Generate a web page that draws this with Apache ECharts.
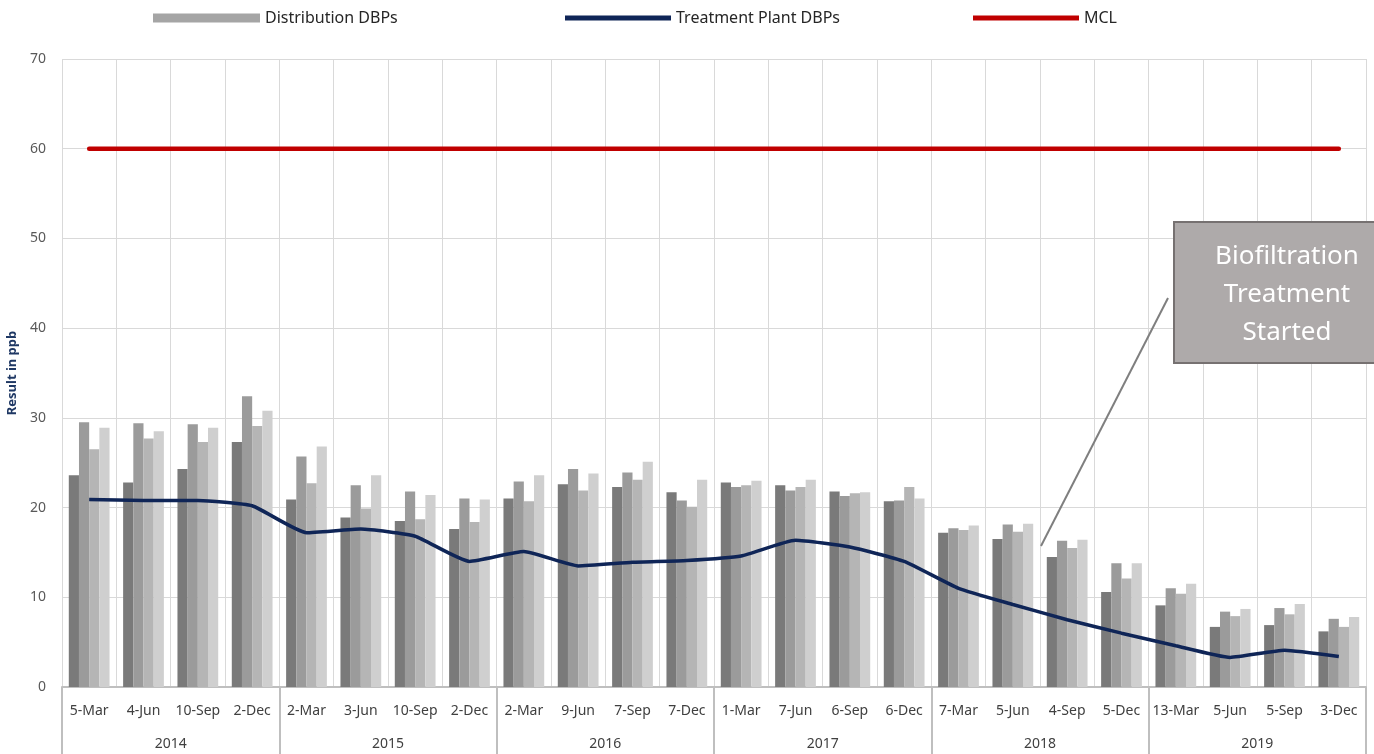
<!DOCTYPE html>
<html>
<head>
<meta charset="utf-8">
<script src="https://cdn.jsdelivr.net/npm/echarts@6/dist/echarts.min.js"></script>
<style>
html,body{margin:0;padding:0;background:#fff;}
#chart{width:1374px;height:754px;}
</style>
</head>
<body>
<div id="chart"></div>
<script>
var months = ['5-Mar','4-Jun','10-Sep','2-Dec','2-Mar','3-Jun','10-Sep','2-Dec','2-Mar','9-Jun','7-Sep','7-Dec','1-Mar','7-Jun','6-Sep','6-Dec','7-Mar','5-Jun','4-Sep','5-Dec','13-Mar','5-Jun','5-Sep','3-Dec'];
var years = ['2014','2015','2016','2017','2018','2019'];
var dist1 = [23.6,22.8,24.3,27.3,20.9,18.9,18.5,17.6,21.0,22.6,22.3,21.7,22.8,22.5,21.8,20.7,17.2,16.5,14.5,10.6,9.1,6.7,6.9,6.2];
var dist2 = [29.5,29.4,29.3,32.4,25.7,22.5,21.8,21.0,22.9,24.3,23.9,20.8,22.3,21.9,21.3,20.8,17.7,18.1,16.3,13.8,11.0,8.4,8.8,7.6];
var dist3 = [26.5,27.7,27.3,29.1,22.7,19.9,18.7,18.4,20.7,21.9,23.1,20.1,22.5,22.3,21.6,22.3,17.5,17.3,15.5,12.1,10.4,7.9,8.1,6.7];
var dist4 = [28.9,28.5,28.9,30.8,26.8,23.6,21.4,20.9,23.6,23.8,25.1,23.1,23.0,23.1,21.7,21.0,18.0,18.2,16.4,13.8,11.5,8.7,9.25,7.8];
var plant = [20.9,20.8,20.8,20.2,17.2,17.6,16.8,14.0,15.1,13.5,13.9,14.1,14.6,16.35,15.6,14.0,11.0,9.2,7.5,6.0,4.6,3.3,4.1,3.4];
var mcl = [60,60,60,60,60,60,60,60,60,60,60,60,60,60,60,60,60,60,60,60,60,60,60,60];
var yTicks = [0,10,20,30,40,50,60,70];

var FONT = 'Noto Sans';
var chart = echarts.init(document.getElementById('chart'));
function barSeries(data, color) {
  return {
    name: 'Distribution DBPs', type: 'bar', data: data,
    xAxisIndex: 0, yAxisIndex: 0,
    barGap: '0%', barCategoryGap: '25%',
    itemStyle: { color: color }, z: 2
  };
}
var legendText = { fontFamily: FONT, fontSize: 16, color: '#262626' };
chart.setOption({
  animation: false,
  textStyle: { fontFamily: FONT },
  legend: [
    { left: 148, top: 5, itemWidth: 107, itemHeight: 9, itemGap: 10, textStyle: legendText,
      data: [{ name: 'Distribution DBPs', icon: 'rect', itemStyle: { color: '#a5a5a5' } }] },
    { left: 560, top: 5, itemWidth: 106, itemHeight: 5, textStyle: legendText,
      data: [{ name: 'Treatment Plant DBPs', icon: 'rect', itemStyle: { color: '#0f2557' } }] },
    { left: 968, top: 5, itemWidth: 106, itemHeight: 5, textStyle: legendText,
      data: [{ name: 'MCL', icon: 'rect', itemStyle: { color: '#c00000' } }] }
  ],
  grid: { left: 62, right: 8, top: 59, bottom: 67, outerBoundsMode: 'none', containLabel: false },
  xAxis: [
    {
      type: 'category', data: months, boundaryGap: true, position: 'bottom',
      axisLine: { show: true, lineStyle: { color: '#bfbfbf', width: 2 } },
      axisTick: { show: false },
      axisLabel: { color: '#404040', fontSize: 14, margin: 17, interval: 0 },
      splitLine: { show: true, interval: 0, lineStyle: { color: '#d9d9d9', width: 1 } }
    },
    {
      type: 'category', data: years, boundaryGap: true, position: 'bottom',
      axisLine: { show: false },
      axisTick: { show: true, length: 70, interval: 0, lineStyle: { color: '#bfbfbf', width: 2 } },
      axisLabel: { color: '#404040', fontSize: 14, margin: 50, interval: 0 },
      splitLine: { show: false }
    }
  ],
  yAxis: {
    type: 'value', min: 0, max: 70, interval: 10,
    name: 'Result in ppb', nameLocation: 'middle', nameGap: 41,
    nameTextStyle: { color: '#1f3864', fontWeight: 'bold', fontSize: 13 },
    axisLine: { show: false }, axisTick: { show: false },
    axisLabel: { color: '#595959', fontSize: 14, margin: 16,
      formatter: function (v) { return yTicks.indexOf(v) >= 0 ? String(v) : ''; } },
    splitLine: { lineStyle: { color: '#d9d9d9', width: 1 } }
  },
  series: [
    barSeries(dist1, '#7a7a7a'),
    barSeries(dist2, '#9b9b9b'),
    barSeries(dist3, '#b5b5b5'),
    barSeries(dist4, '#cfcfcf'),
    {
      name: 'Treatment Plant DBPs', type: 'line', data: plant, smooth: 0.15,
      symbol: 'none', lineStyle: { color: '#0f2557', width: 3.5 }, itemStyle: { color: '#0f2557' }, z: 5
    },
    {
      name: 'MCL', type: 'line', data: mcl, symbol: 'none',
      lineStyle: { color: '#c00000', width: 4.5, cap: 'round' }, itemStyle: { color: '#c00000' }, z: 5
    }
  ],
  graphic: [
    { type: 'line', shape: { x1: 1041, y1: 546, x2: 1168, y2: 298 },
      style: { stroke: '#7f7f7f', lineWidth: 2 }, z: 10 },
    { type: 'rect', shape: { x: 1174, y: 222, width: 210, height: 141 },
      style: { fill: '#aeaaaa', stroke: '#767171', lineWidth: 2 }, z: 10 },
    { type: 'text', x: 1287, y: 295, z: 11,
      style: { text: 'Biofiltration\nTreatment\nStarted', fill: '#ffffff', font: '26px "Noto Sans"',
        align: 'center', verticalAlign: 'middle', lineHeight: 38 } }
  ]
});
</script>
</body>
</html>
